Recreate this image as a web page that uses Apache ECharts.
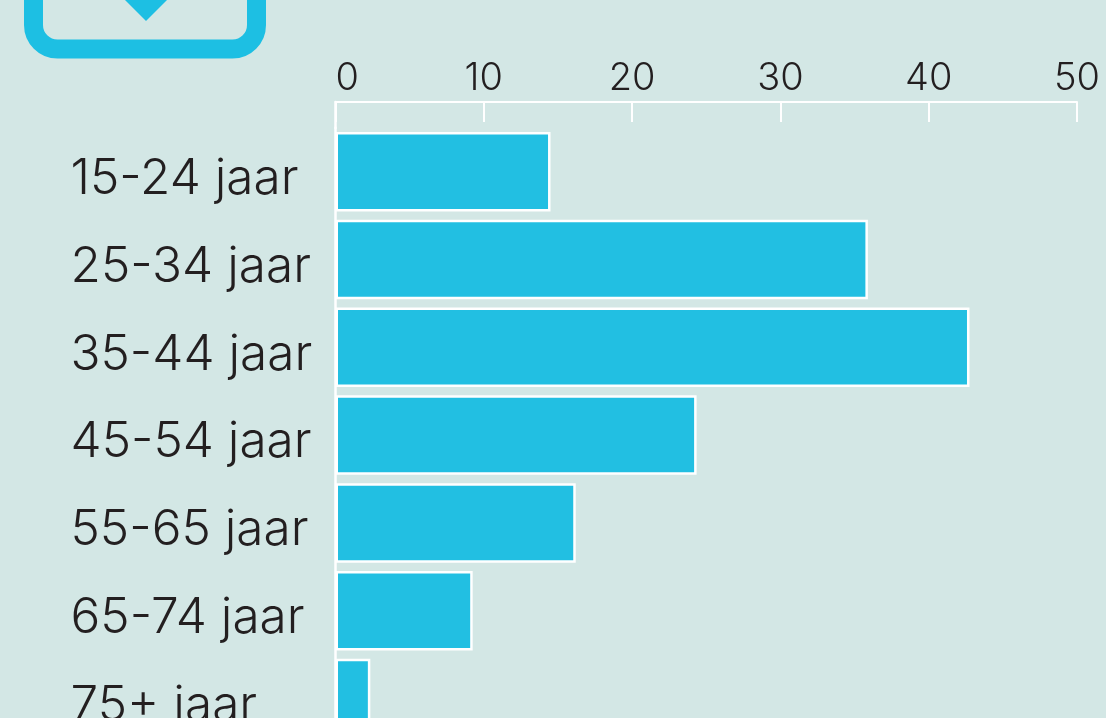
<!DOCTYPE html>
<html><head><meta charset="utf-8">
<style>html,body{margin:0;padding:0;background:#d3e7e5;overflow:hidden}#c{width:1106px;height:718px}</style>
<script src="https://cdn.jsdelivr.net/npm/echarts@6/dist/echarts.min.js"></script>
</head><body><div id="c"></div>
<script>
const categories = ['15-24 jaar','25-34 jaar','35-44 jaar','45-54 jaar','55-65 jaar','65-74 jaar','75+ jaar'];
const values = [14.5,35.9,42.75,24.35,16.2,9.25,2.35];
const ticks = [0,10,20,30,40,50];
const FONT = 'Inter, "Open Sans", sans-serif';
const chart = echarts.init(document.getElementById('c'), null, {renderer:'canvas'});
chart.setOption({
  animation:false,
  backgroundColor:'#d3e7e5',
  grid:[
    {left:335.5, top:127.8, width:741.5, height:614.6, outerBoundsMode:'none', containLabel:false},
    {left:335.5, top:102, width:741.5, height:26, outerBoundsMode:'none', containLabel:false}
  ],
  xAxis:[
    {type:'value', gridIndex:0, position:'top', offset:25.8, min:0, max:50, interval:10,
     axisLine:{show:true,lineStyle:{color:'#fff',width:2}},
     axisTick:{show:true,inside:true,length:20,lineStyle:{color:'#fff',width:2}},
     axisLabel:{color:'#231f20',fontSize:38,fontFamily:FONT,margin:4,fontWeight:300,
       formatter:v=>String(ticks.includes(v)?v:''), hideOverlap:false, alignMinLabel:'left', alignMaxLabel:'center'},
     splitLine:{show:false}},
    {type:'value', gridIndex:1, show:false, min:0, max:50}
  ],
  yAxis:[
    {type:'category', gridIndex:0, inverse:true, data:categories,
     axisLine:{show:true,lineStyle:{color:'#fff',width:2.5}},
     axisTick:{show:false},
     axisLabel:{color:'#231f20',fontSize:49.5,fontFamily:FONT,fontWeight:300,margin:265,align:'left',
       verticalAlign:'top',lineHeight:15}},
    {type:'category', gridIndex:1, data:[''],
     axisLine:{show:true,lineStyle:{color:'#fff',width:2.5}},
     axisTick:{show:false}, axisLabel:{show:false}}
  ],
  series:[{type:'bar', xAxisIndex:0, yAxisIndex:0, data:values, barWidth:79.5,
    itemStyle:{color:'#22bfe2',borderColor:'#fff',borderWidth:2.5}, silent:true}],
  graphic:[
    {type:'rect', silent:true, shape:{x:33.5,y:-100,width:223,height:149,r:24},
     style:{fill:'none',stroke:'#1dbfe3',lineWidth:19}},
    {type:'polygon', silent:true, shape:{points:[[125,0],[167,0],[146,21]]}, style:{fill:'#1dbfe3'}}
  ]
});
</script></body></html>
